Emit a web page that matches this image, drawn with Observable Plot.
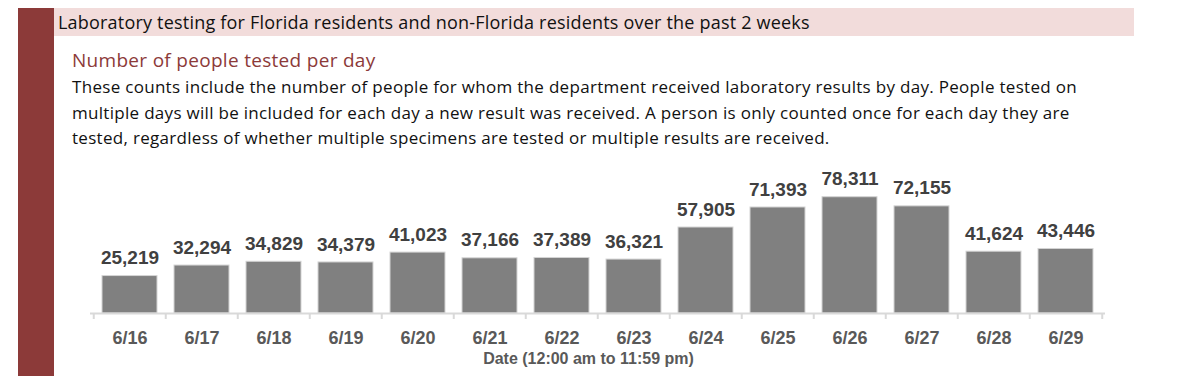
<!DOCTYPE html>
<html>
<head>
<meta charset="utf-8">
<script src="https://cdn.jsdelivr.net/npm/d3@7"></script>
<script src="https://cdn.jsdelivr.net/npm/@observablehq/plot@0.6"></script>
<style>
  html, body { margin: 0; padding: 0; background: #fff; width: 1200px; height: 376px; overflow: hidden; }
  body { position: relative; font-family: "Open Sans", "Liberation Sans", Arial, sans-serif; }
  #leftbar { position: absolute; left: 18px; top: 8px; width: 36px; height: 368px; background: #8c3a39; }
  #header { position: absolute; left: 54px; top: 8px; width: 1080px; height: 28px; background: #f2dcdb; }
  #title { position: absolute; left: 58px; top: 8px; height: 28px; line-height: 28px; font-size: 18px; letter-spacing: 0.2px; color: #111; white-space: nowrap; }
  #subtitle { position: absolute; left: 72px; top: 47px; line-height: 26px; font-size: 19px; letter-spacing: 0.3px; color: #8c3a39; white-space: nowrap; }
  #para { position: absolute; left: 72px; top: 74px; line-height: 25.5px; font-size: 17px; letter-spacing: 0.3px; color: #111; white-space: nowrap; }
  #chart { position: absolute; left: 0; top: 150px; }
</style>
</head>
<body>
<div id="leftbar"></div>
<div id="header"></div>
<div id="title">Laboratory testing for Florida residents and non-Florida residents over the past 2 weeks</div>
<div id="subtitle">Number of people tested per day</div>
<div id="para">These counts include the number of people for whom the department received laboratory results by day. People tested on<br>multiple days will be included for each day a new result was received. A person is only counted once for each day they are<br>tested, regardless of whether multiple specimens are tested or multiple results are received.</div>
<div id="chart"></div>
<script>
const dates = ["6/16","6/17","6/18","6/19","6/20","6/21","6/22","6/23","6/24","6/25","6/26","6/27","6/28","6/29"];
const counts = [25219,32294,34829,34379,41023,37166,37389,36321,57905,71393,78311,72155,41624,43446];
const axisTitle = "Date (12:00 am to 11:59 pm)";

const data = dates.map((d, i) => ({date: d, count: counts[i]}));
const W = 1200, H = 226, ML = 90, MR = 95, MT = 20, MB = 63;
const step = (W - ML - MR) / dates.length;
const fmt = d3.format(",");

const chart = Plot.plot({
  width: W, height: H,
  marginLeft: ML, marginRight: MR, marginTop: MT, marginBottom: MB,
  style: {fontFamily: "'Liberation Sans', Arial, sans-serif", background: "transparent"},
  x: {domain: dates, paddingInner: 0.23, paddingOuter: 0.115, axis: null},
  y: {domain: [0, 96300], axis: null},
  marks: [
    Plot.barY(data, {x: "date", y: "count", fill: "#808080", stroke: "#d4d4d4", strokeWidth: 1}),
    Plot.ruleY([0], {stroke: "#d9d9d9", strokeWidth: 2}),
    Plot.ruleX(dates, {x: d => d, y1: 0, y2: 0, insetBottom: -6, dx: -step / 2, stroke: "#d9d9d9", strokeWidth: 2}),
    Plot.ruleX(dates.slice(-1), {x: d => d, y1: 0, y2: 0, insetBottom: -6, dx: step / 2, stroke: "#d9d9d9", strokeWidth: 2}),
    Plot.text(data, {x: "date", y: "count", text: d => fmt(d.count), dy: -18, fill: "#404040", fontSize: 19, fontWeight: "bold"}),
    Plot.axisX({tickSize: 0, tickPadding: 18, fontSize: 18, fontWeight: "bold", color: "#595959", label: null}),
    Plot.text([axisTitle], {frameAnchor: "bottom", lineAnchor: "top", dy: 39, dx: -9.5, fill: "#595959", fontSize: 16, fontWeight: "bold"})
  ]
});
document.getElementById("chart").appendChild(chart);
</script>
</body>
</html>
